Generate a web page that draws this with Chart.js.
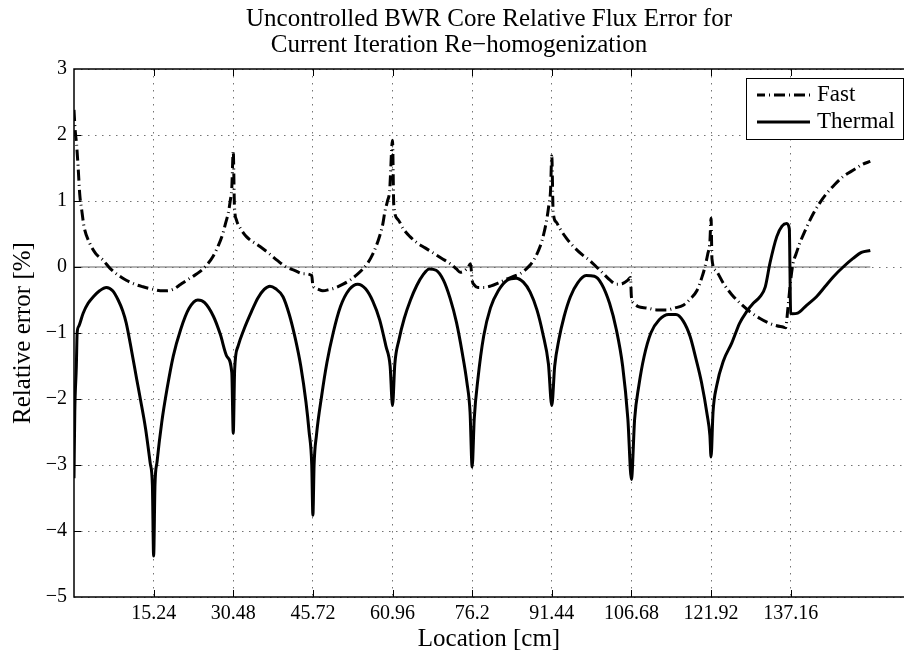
<!DOCTYPE html>
<html>
<head>
<meta charset="utf-8">
<script src="https://cdn.jsdelivr.net/npm/chart.js@4"></script>
<style>
  html, body { margin:0; padding:0; background:#fff; overflow:hidden; }
</style>
</head>
<body>
<canvas id="fluxChart" width="904" height="655"></canvas>
<script>
// chart text
const titleLines = ['Uncontrolled BWR Core Relative Flux Error for', 'Current Iteration Re\u2212homogenization'];
const xLabel = 'Location [cm]';
const yLabel = 'Relative error [%]';
const seriesNames = ['Fast', 'Thermal'];

// tick values (assembly boundaries every 15.24 cm)
const xTicks = [15.24, 30.48, 45.72, 60.96, 76.2, 91.44, 106.68, 121.92, 137.16];
const xTickLabels = ['15.24', '30.48', '45.72', '60.96', '76.2', '91.44', '106.68', '121.92', '137.16'];

// fast group error
const fastX = [0, 0.2, 0.5, 0.8, 1.1, 1.5, 1.9, 3.0, 4.2, 5.6, 6.9, 8.4, 10.0, 11.6, 13.2, 15.24, 16.5, 17.8, 19.2, 20.3,
  21.6, 22.8, 24.1, 25.3, 26.6, 27.6, 28.5, 29.0, 29.5, 29.9, 30.2, 30.48, 30.7, 31.1, 31.9, 33.0, 35.6, 37.4, 38.9,
  40.6, 42.2, 43.8, 45.5, 45.72, 46.5, 47.6, 48.9, 50.2, 51.5, 52.8, 54.1, 55.3, 56.3, 57.2, 57.9, 58.5, 59.1, 59.5,
  60.0, 60.4, 60.96, 61.2, 62.0, 63.0, 64.3, 65.6, 67.2, 68.8, 70.4, 72.0, 73.2, 73.9, 75.3, 75.9, 76.2, 76.6, 77.3,
  78.5, 79.7, 81.3, 82.9, 84.2, 85.4, 86.4, 87.3, 88.3, 89.2, 89.9, 90.5, 90.9, 91.2, 91.44, 91.7, 92.3, 93.0, 94.3,
  95.6, 97.2, 98.7, 100.0, 101.3, 102.6, 103.8, 105.0, 106.0, 106.5, 106.68, 107.2, 108.0, 109.6, 111.5, 113.4,
  115.0, 116.6, 118.0, 119.2, 120.2, 120.75, 121.3, 121.7, 121.92, 122.1, 122.8, 124.3, 125.9, 127.5, 129.4, 131.3,
  133.0, 134.5, 135.7, 136.2, 136.6, 137.16, 137.6, 138.2, 138.9, 140.2, 141.5, 142.8, 144.0, 145.6, 147.2, 149.4,
  151.0, 152.4];
const fastErr = [2.38, 2.1, 1.85, 1.5, 1.1, 0.85, 0.62, 0.36, 0.2, 0.1, -0.02, -0.12, -0.2, -0.26, -0.3, -0.34, -0.36, -0.36, -0.33, -0.27,
  -0.2, -0.14, -0.07, 0.02, 0.16, 0.32, 0.51, 0.66, 0.81, 1.0, 1.2, 1.76, 0.94, 0.71, 0.58, 0.46, 0.31, 0.2, 0.1,
  0.0, -0.05, -0.1, -0.13, -0.28, -0.33, -0.36, -0.34, -0.31, -0.26, -0.2, -0.12, -0.03, 0.07, 0.2, 0.33, 0.47, 0.65, 0.84,
  1.0, 1.15, 1.92, 0.94, 0.72, 0.58, 0.46, 0.37, 0.29, 0.21, 0.13, 0.05, -0.03, -0.08, -0.02, 0.05, -0.2, -0.27, -0.31,
  -0.31, -0.29, -0.24, -0.18, -0.14, -0.1, -0.04, 0.03, 0.15, 0.31, 0.5, 0.73, 0.95, 1.15, 1.68, 0.84, 0.68, 0.58, 0.43,
  0.31, 0.19, 0.1, 0.0, -0.1, -0.2, -0.26, -0.25, -0.2, -0.16, -0.45, -0.55, -0.6, -0.62, -0.65, -0.65,
  -0.62, -0.58, -0.48, -0.36, -0.15, 0.0, 0.2, 0.38, 0.74, 0.12, -0.05, -0.25, -0.42, -0.55, -0.68, -0.78,
  -0.85, -0.89, -0.91, -0.92, -0.65, -0.2, 0.05, 0.2, 0.36, 0.6, 0.81, 0.98, 1.11, 1.25, 1.37, 1.48,
  1.56, 1.6];

// thermal group error
const thermalX = [0, 0.15, 0.45, 0.6, 0.9, 1.75, 2.7, 3.7, 4.9, 6.2, 7.4, 8.45, 9.3, 10.0, 11.0, 12.0, 12.7, 13.7, 14.6, 15.0,
  15.24, 15.5, 15.9, 16.8, 17.8, 19.0, 20.4, 22.0, 23.7, 25.0, 26.7, 28.0, 29.3, 30.2, 30.48, 30.75, 31.4, 32.5, 34.0,
  35.2, 36.4, 37.5, 38.6, 40.0, 41.2, 42.4, 43.4, 44.4, 45.0, 45.5, 45.72, 45.95, 46.4, 47.4, 48.4, 49.6, 51.0, 52.7,
  54.3, 55.8, 57.2, 58.5, 59.7, 60.5, 60.96, 61.4, 62.2, 63.2, 64.4, 65.6, 66.8, 68.0, 69.3, 70.7, 72.0, 73.2, 74.3,
  75.2, 75.8, 76.2, 76.6, 77.3, 78.4, 79.7, 81.2, 82.9, 84.6, 86.0, 87.3, 88.6, 89.7, 90.8, 91.44, 92.0, 92.8, 93.8,
  95.0, 96.4, 98.0, 99.6, 101.0, 102.5, 103.8, 105.0, 106.0, 106.68, 107.3, 108.1, 109.1, 110.4, 112.0, 113.8, 115.2,
  116.6, 117.9, 119.0, 120.1, 121.2, 121.7, 121.92, 122.3, 123.0, 124.3, 125.9, 127.4, 128.7, 130.0, 131.3, 132.3,
  133.2, 134.5, 135.5, 136.4, 136.9, 137.16, 137.5, 138.5, 140.2, 142.1, 143.7, 145.3, 147.2, 149.1, 150.7, 152.4];
const thermalErr = [-3.2, -2.2, -1.5, -1.0, -0.9, -0.7, -0.55, -0.45, -0.36, -0.31, -0.36, -0.5, -0.66, -0.85, -1.26, -1.7, -2.0, -2.45, -2.98, -3.3,
  -4.38, -3.3, -2.95, -2.35, -1.85, -1.35, -0.95, -0.63, -0.5, -0.54, -0.75, -1.02, -1.36, -1.6, -2.52, -1.55, -1.2, -0.95, -0.67,
  -0.47, -0.34, -0.29, -0.33, -0.45, -0.72, -1.1, -1.5, -2.05, -2.5, -3.0, -3.76, -3.0, -2.55, -1.95, -1.45, -1.0, -0.6, -0.34,
  -0.26, -0.33, -0.52, -0.8, -1.2, -1.5, -2.1, -1.47, -1.1, -0.78, -0.5, -0.28, -0.12, -0.03, -0.05, -0.2, -0.48, -0.84, -1.3,
  -1.75, -2.2, -3.03, -2.3, -1.7, -1.05, -0.62, -0.36, -0.2, -0.17, -0.23, -0.38, -0.65, -1.0, -1.47, -2.1, -1.5, -1.1, -0.75,
  -0.45, -0.24, -0.13, -0.14, -0.26, -0.55, -0.95, -1.5, -2.3, -3.22, -2.3, -1.8, -1.36, -1.0, -0.8, -0.72, -0.72,
  -0.82, -1.05, -1.38, -1.75, -2.25, -2.55, -2.88, -2.2, -1.8, -1.42, -1.15, -0.85, -0.68, -0.55, -0.45, -0.3,
  0.06, 0.46, 0.62, 0.66, 0.58, -0.7, -0.71, -0.7, -0.58, -0.45, -0.3, -0.15, 0.0, 0.13, 0.22, 0.25];

// reference line at zero error
const zeroX = [0, 152.4];
const zeroErr = [0, 0];

const toPoints = (xs, ys) => xs.map((x, i) => ({x: x, y: ys[i]}));

const fontFamily = '"Liberation Serif", "Times New Roman", serif';
const fastDash = [11, 4, 1, 4];

const decorPlugin = {
  id: 'decor',
  afterDraw(chart) {
    const ctx = chart.ctx;
    const area = chart.chartArea;
    const xs = chart.scales.x, ys = chart.scales.y;
    ctx.save();
    // box
    ctx.strokeStyle = '#000';
    ctx.lineWidth = 1.5;
    ctx.setLineDash([]);
    ctx.strokeRect(area.left, area.top, area.right - area.left + 2, area.bottom - area.top);
    // inward tick marks
    ctx.lineWidth = 1;
    ctx.beginPath();
    xTicks.forEach(v => {
      const px = Math.round(xs.getPixelForValue(v)) + 0.5;
      ctx.moveTo(px, area.bottom); ctx.lineTo(px, area.bottom - 7);
      ctx.moveTo(px, area.top); ctx.lineTo(px, area.top + 7);
    });
    for (let v = -4; v <= 2; v++) {
      const py = Math.round(ys.getPixelForValue(v)) + 0.5;
      ctx.moveTo(area.left, py); ctx.lineTo(area.left + 7, py);
    }
    ctx.stroke();

    // title
    ctx.fillStyle = '#000';
    ctx.font = '25px ' + fontFamily;
    ctx.textAlign = 'center';
    ctx.textBaseline = 'alphabetic';
    const cx = (area.left + area.right) / 2;
    ctx.fillText(titleLines[0], cx, 26);
    ctx.fillText(titleLines[1], cx - 30, 52);

    // legend
    const lx = 746, ly = 78, lw = 157, lh = 61;
    ctx.fillStyle = '#fff';
    ctx.fillRect(lx, ly, lw, lh);
    ctx.strokeStyle = '#000';
    ctx.lineWidth = 1;
    ctx.strokeRect(lx + 0.5, ly + 0.5, lw, lh);
    const rows = [ly + 17, ly + 44];
    ctx.lineWidth = 3;
    ctx.lineCap = 'butt';
    ctx.setLineDash(fastDash);
    ctx.lineDashOffset = 3;
    ctx.beginPath(); ctx.moveTo(757, rows[0]); ctx.lineTo(810, rows[0]); ctx.stroke();
    ctx.setLineDash([]);
    ctx.beginPath(); ctx.moveTo(757, rows[1]); ctx.lineTo(810, rows[1]); ctx.stroke();
    ctx.fillStyle = '#000';
    ctx.font = '23px ' + fontFamily;
    ctx.textAlign = 'left';
    ctx.textBaseline = 'middle';
    ctx.fillText(seriesNames[0], 817, rows[0]);
    ctx.fillText(seriesNames[1], 817, rows[1]);
    ctx.restore();
  }
};

const chart = new Chart(document.getElementById('fluxChart'), {
  type: 'line',
  data: {
    datasets: [
      {
        label: seriesNames[1],
        data: toPoints(thermalX, thermalErr),
        borderColor: '#000',
        borderWidth: 3,
        pointRadius: 0,
        cubicInterpolationMode: 'monotone',
        fill: false
      },
      {
        label: seriesNames[0],
        data: toPoints(fastX, fastErr),
        borderColor: '#000',
        borderWidth: 3,
        borderDash: fastDash,
        borderCapStyle: 'butt',
        pointRadius: 0,
        cubicInterpolationMode: 'monotone',
        fill: false
      },
      {
        label: 'zero',
        data: toPoints(zeroX, zeroErr),
        borderColor: '#666',
        borderWidth: 1.2,
        pointRadius: 0,
        fill: false
      }
    ]
  },
  options: {
    responsive: false,
    animation: false,
    devicePixelRatio: 1,
    layout: { padding: { top: 69, right: 0, left: 0, bottom: 0 } },
    plugins: {
      legend: { display: false },
      title: { display: false },
      tooltip: { enabled: false }
    },
    scales: {
      x: {
        type: 'linear',
        min: 0,
        max: 158.85,
        afterBuildTicks: s => { s.ticks = xTicks.map(v => ({value: v})); },
        afterFit: s => { s.height = 58; },
        ticks: {
          autoSkip: false,
          maxRotation: 0,
          padding: 5,
          color: '#000',
          font: { family: fontFamily, size: 20 },
          callback: (v, i) => xTickLabels[i]
        },
        grid: { color: 'rgba(0,0,0,0.55)', lineWidth: 1, drawTicks: false },
        border: { display: false, dash: [1.5, 5.5] },
        title: {
          display: true,
          text: xLabel,
          color: '#000',
          font: { family: fontFamily, size: 25 },
          padding: { top: 0, bottom: 1 }
        }
      },
      y: {
        min: -5,
        max: 3,
        afterFit: s => { s.width = 74; },
        ticks: {
          stepSize: 1,
          padding: 7,
          color: '#000',
          font: { family: fontFamily, size: 20 },
          callback: v => String(v).replace('-', '\u2212')
        },
        grid: { color: 'rgba(0,0,0,0.55)', lineWidth: 1, drawTicks: false },
        border: { display: false, dash: [1.5, 5.5] },
        title: {
          display: true,
          text: yLabel,
          color: '#000',
          font: { family: fontFamily, size: 25 },
          padding: { top: 8, bottom: 0 }
        }
      }
    }
  },
  plugins: [decorPlugin]
});
</script>
</body>
</html>
